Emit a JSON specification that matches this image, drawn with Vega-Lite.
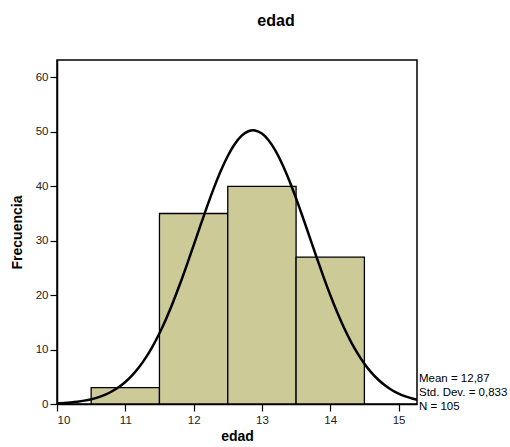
{
  "$schema": "https://vega.github.io/schema/vega-lite/v6.json",
  "autosize": "none",
  "padding": {"left": 57, "top": 60, "right": 93, "bottom": 43},
  "width": 360,
  "height": 344,
  "background": "white",
  "title": {"text": "edad", "font": "Liberation Sans", "fontSize": 16, "fontWeight": "bold", "color": "#000", "anchor": "middle", "frame": "group", "dx": 39, "offset": 23, "baseline": "middle"},
  "config": {
    "view": {"stroke": "#000", "strokeWidth": 1.5},
    "axis": {"labelFont": "Liberation Sans", "titleFont": "Liberation Sans", "labelFontSize": 11.5, "labelColor": "#222", "titleColor": "#000", "titleFontWeight": "bold", "domainColor": "#000", "domainWidth": 1.5, "tickColor": "#000", "tickWidth": 1.2, "tickSize": 7, "grid": false}
  },
  "datasets": {
    "bins": [
      {"lo": 10.5, "hi": 11.5, "count": 3},
      {"lo": 11.5, "hi": 12.5, "count": 35},
      {"lo": 12.5, "hi": 13.5, "count": 40},
      {"lo": 13.5, "hi": 14.5, "count": 27}
    ],
    "curve": [
      {"x": 10.0, "y": 0.133}, {"x": 10.1, "y": 0.200}, {"x": 10.2, "y": 0.296}, {"x": 10.3, "y": 0.431},
      {"x": 10.4, "y": 0.620}, {"x": 10.5, "y": 0.879}, {"x": 10.6, "y": 1.227}, {"x": 10.7, "y": 1.690},
      {"x": 10.8, "y": 2.294}, {"x": 10.9, "y": 3.069}, {"x": 11.0, "y": 4.047}, {"x": 11.1, "y": 5.262},
      {"x": 11.2, "y": 6.741}, {"x": 11.3, "y": 8.513}, {"x": 11.4, "y": 10.598}, {"x": 11.5, "y": 13.006},
      {"x": 11.6, "y": 15.730}, {"x": 11.7, "y": 18.753}, {"x": 11.8, "y": 22.037}, {"x": 11.9, "y": 25.529},
      {"x": 12.0, "y": 29.147}, {"x": 12.1, "y": 32.802}, {"x": 12.2, "y": 36.391}, {"x": 12.3, "y": 39.791},
      {"x": 12.4, "y": 42.887}, {"x": 12.5, "y": 45.563}, {"x": 12.6, "y": 47.714}, {"x": 12.7, "y": 49.251},
      {"x": 12.8, "y": 50.110}, {"x": 12.87, "y": 50.287}, {"x": 12.9, "y": 50.254}, {"x": 13.0, "y": 49.678},
      {"x": 13.1, "y": 48.406}, {"x": 13.2, "y": 46.492}, {"x": 13.3, "y": 44.014}, {"x": 13.4, "y": 41.072},
      {"x": 13.5, "y": 37.779}, {"x": 13.6, "y": 34.252}, {"x": 13.7, "y": 30.610}, {"x": 13.8, "y": 26.964},
      {"x": 13.9, "y": 23.414}, {"x": 14.0, "y": 20.038}, {"x": 14.1, "y": 16.905}, {"x": 14.2, "y": 14.057},
      {"x": 14.3, "y": 11.521}, {"x": 14.4, "y": 9.308}, {"x": 14.5, "y": 7.413}, {"x": 14.6, "y": 5.820},
      {"x": 14.7, "y": 4.503}, {"x": 14.8, "y": 3.434}, {"x": 14.9, "y": 2.581}, {"x": 15.0, "y": 1.913},
      {"x": 15.1, "y": 1.397}, {"x": 15.2, "y": 1.006}, {"x": 15.27, "y": 0.792}
    ],
    "stats": [
      {"label": "Mean = 12,87", "y": 4.6},
      {"label": "Std. Dev. = 0,833", "y": 2.0},
      {"label": "N = 105", "y": -0.55}
    ]
  },
  "layer": [
    {
      "data": {"name": "bins"},
      "mark": {"type": "bar", "fill": "#CCCB98", "stroke": "#000", "strokeWidth": 1.3},
      "encoding": {
        "x": {"field": "lo", "type": "quantitative", "scale": {"domain": [10, 15.27], "nice": false, "zero": false}, "axis": {"values": [10, 11, 12, 13, 14, 15], "format": "d", "title": "edad", "titleFontSize": 14, "titlePadding": 4, "labelPadding": 3}},
        "x2": {"field": "hi"},
        "y": {"field": "count", "type": "quantitative", "scale": {"domain": [0, 63.2], "nice": false}, "axis": {"values": [0, 10, 20, 30, 40, 50, 60], "title": "Frecuencia", "titleFontSize": 14, "titlePadding": 11, "labelPadding": 2}},
        "y2": {"datum": 0}
      }
    },
    {
      "data": {"name": "curve"},
      "mark": {"type": "line", "color": "#000", "strokeWidth": 2.5, "interpolate": "monotone", "clip": true},
      "encoding": {
        "x": {"field": "x", "type": "quantitative"},
        "y": {"field": "y", "type": "quantitative"}
      }
    },
    {
      "data": {"name": "stats"},
      "mark": {"type": "text", "align": "left", "baseline": "middle", "dx": 2, "font": "Liberation Sans", "fontSize": 11.5, "color": "#000"},
      "encoding": {
        "x": {"datum": 15.27},
        "y": {"field": "y", "type": "quantitative"},
        "text": {"field": "label"}
      }
    }
  ]
}
